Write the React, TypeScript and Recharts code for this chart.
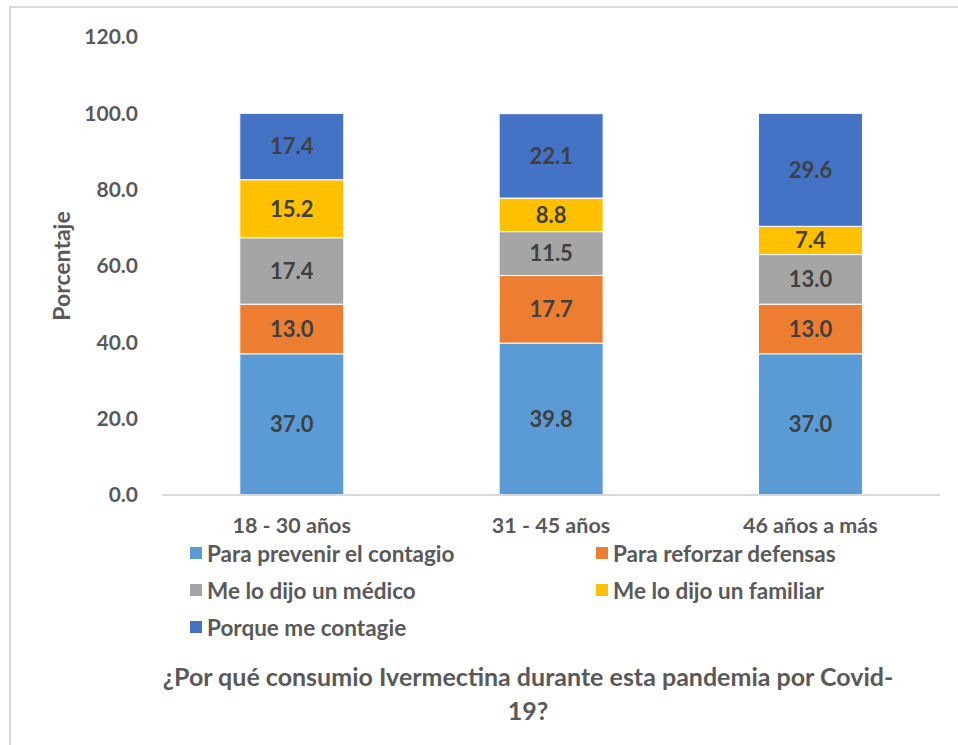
import React from "react";
import { BarChart, Bar, XAxis, YAxis, LabelList } from "recharts";

const categories = ["18 - 30 años", "31 - 45 años", "46 años a más"];
const prevenir = [37.0, 39.8, 37.0];
const reforzar = [13.0, 17.7, 13.0];
const medico = [17.4, 11.5, 13.0];
const familiar = [15.2, 8.8, 7.4];
const contagie = [17.4, 22.1, 29.6];
const yTicks = [0, 20, 40, 60, 80, 100, 120];

const seriesNames = [
  "Para prevenir el contagio",
  "Para reforzar defensas",
  "Me lo dijo un médico",
  "Me lo dijo un familiar",
  "Porque me contagie",
];
const seriesKeys = ["prevenir", "reforzar", "medico", "familiar", "contagie"];
const seriesColors = ["#5B9BD5", "#ED7D31", "#A5A5A5", "#FFC000", "#4472C4"];
const seriesValues = [prevenir, reforzar, medico, familiar, contagie];

const data = categories.map((c, i) => {
  const row: Record<string, any> = { name: c };
  seriesKeys.forEach((k, j) => {
    row[k] = seriesValues[j][i];
  });
  return row;
});

const FONT = "Lato, 'Open Sans', sans-serif";

const LegendBlock = () => (
  <div
    style={{
      position: "absolute",
      left: 0,
      top: 538,
      width: 958,
      height: 110,
      fontFamily: FONT,
      fontWeight: 700,
      fontSize: 22.5,
      color: "#595959",
    }}
  >
    {seriesNames.map((n, i) => {
      const col = i % 2;
      const row = Math.floor(i / 2);
      return (
        <div
          key={n}
          style={{
            position: "absolute",
            left: col === 0 ? 190 : 596,
            top: row * 37,
            display: "flex",
            alignItems: "center",
            height: 30,
            whiteSpace: "nowrap",
          }}
        >
          <span
            style={{
              display: "inline-block",
              width: 12,
              height: 12,
              background: seriesColors[i],
              marginRight: 5,
            }}
          />
          <span>{n}</span>
        </div>
      );
    })}
  </div>
);

export default function App() {
  return (
    <div
      style={{
        position: "absolute",
        left: 0,
        top: 0,
        width: 958,
        height: 745,
        overflow: "hidden",
        background: "#fff",
      }}
    >
      <div
        style={{
          position: "absolute",
          left: 9,
          top: 6,
          width: 1000,
          height: 800,
          border: "2px solid #D9D9D9",
          boxSizing: "border-box",
        }}
      />
      <BarChart
        width={958}
        height={745}
        data={data}
        margin={{ top: 37, right: 18, bottom: 220, left: 42 }}
        barCategoryGap="30%"
        style={{ position: "absolute", left: 0, top: 0 }}
      >
        <XAxis
          dataKey="name"
          height={30}
          axisLine={{ stroke: "#D9D9D9", strokeWidth: 2 }}
          tickLine={false}
          tickSize={0}
          tickMargin={23}
          tick={{ fill: "#595959", fontSize: 21.5, fontWeight: 700, fontFamily: FONT }}
        />
        <YAxis
          width={120}
          domain={[0, 120]}
          ticks={yTicks}
          interval={0}
          axisLine={false}
          tickLine={false}
          tickSize={0}
          tickMargin={24}
          tickFormatter={(v: number) => v.toFixed(1)}
          tick={{ fill: "#595959", fontSize: 21, fontWeight: 700, fontFamily: FONT }}
          label={{
            value: "Porcentaje",
            angle: -90,
            position: "insideLeft",
            offset: 0,
            dx: 20,
            style: { fill: "#595959", fontSize: 23, fontWeight: 700, fontFamily: FONT, textAnchor: "middle" },
          }}
        />
        {seriesKeys.map((k, i) => (
          <Bar
            key={k}
            dataKey={k}
            name={seriesNames[i]}
            stackId="a"
            fill={seriesColors[i]}
            stroke="#FFFFFF"
            strokeWidth={1}
            isAnimationActive={false}
          >
            <LabelList
              dataKey={k}
              position="center"
              formatter={(v: any) => Number(v).toFixed(1)}
              style={{ fill: "#404040", fontSize: 22, fontWeight: 700, fontFamily: FONT }}
            />
          </Bar>
        ))}
      </BarChart>
      <LegendBlock />
      <div
        style={{
          position: "absolute",
          left: 100,
          width: 856,
          top: 659,
          textAlign: "center",
          fontFamily: FONT,
          fontWeight: 700,
          fontSize: 25,
          lineHeight: "34px",
          color: "#595959",
        }}
      >
        <div>¿Por qué consumio Ivermectina durante esta pandemia por Covid-</div>
        <div>19?</div>
      </div>
    </div>
  );
}
